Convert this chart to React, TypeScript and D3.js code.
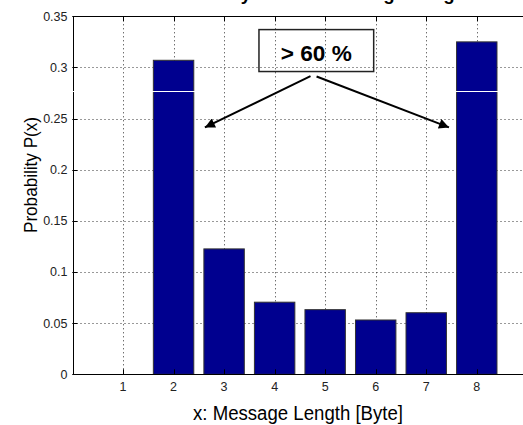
import * as d3 from "d3";

// message length (bytes) and probability P(x)
const lengths = [1, 2, 3, 4, 5, 6, 7, 8];
const probs = [0, 0.307, 0.1226, 0.0705, 0.0632, 0.0531, 0.0602, 0.325];
const yTicks = [0, 0.05, 0.1, 0.15, 0.2, 0.25, 0.3, 0.35];
const yTickLabels = ["0", "0.05", "0.1", "0.15", "0.2", "0.25", "0.3", "0.35"];
const xGrid = [1, 2, 3, 4, 5, 6, 7, 8];

// annotation in data units: box corners, arrow start -> tip
const noteBox = { x0: 3.69, x1: 5.96, y0: 0.337, y1: 0.296, label: "> 60 %" };
const arrows = [
  { x0: 4.71, y0: 0.2915, x1: 2.62, y1: 0.2414 },
  { x0: 4.83, y0: 0.2912, x1: 7.45, y1: 0.2414 },
];

const W = 523;
const H = 425;
const FONT = "'Liberation Sans', Arial, sans-serif";

export default function App() {
  const x = d3.scaleLinear().domain([0, 9]).range([72.5, 527.3]);
  const y = d3.scaleLinear().domain([0, 0.35]).range([374.3, 16.3]);
  const barW = x(0.8) - x(0);
  const left = x.range()[0];
  const right = x.range()[1];
  const top = y.range()[1];
  const bottom = y.range()[0];
  const px = (v: number) => Math.round(v) + 0.5; // crisp 1px lines

  return (
    <svg
      width={W}
      height={H}
      style={{ position: "absolute", left: 0, top: 0, background: "#fff" }}
      fontFamily={FONT}
    >
      <defs>
        <marker id="head" viewBox="0 0 10 10" refX="10" refY="5" markerWidth="6" markerHeight="5" orient="auto" markerUnits="strokeWidth">
          <path d="M0,0 L10,5 L0,10 z" fill="#000" />
        </marker>
      </defs>

      {/* title, mostly cut off at the top like the reference */}
      <text x={155} y={-0.5} fontSize={18.6} fontWeight="bold" fill="#000">
        Probability of each Message Length
      </text>

      {/* grid */}
      <g stroke="#333" strokeWidth={1} strokeDasharray="1,3">
        {yTicks.slice(1, -1).map((t) => (
          <line key={t} x1={left} x2={right} y1={px(y(t))} y2={px(y(t))} />
        ))}
        {xGrid.map((t) => (
          <line key={t} x1={px(x(t))} x2={px(x(t))} y1={top} y2={bottom} />
        ))}
      </g>

      {/* bars */}
      {lengths.map((l, i) =>
        probs[i] > 0 ? (
          <rect
            key={l}
            x={x(l) - barW / 2}
            y={y(probs[i])}
            width={barW}
            height={bottom - y(probs[i])}
            fill="#00008F"
            stroke="#333"
            strokeWidth={1}
          />
        ) : null
      )}

      {/* axes frame and inward ticks */}
      <g stroke="#000" strokeWidth={1} fill="none">
        <line x1={left} x2={right} y1={px(bottom)} y2={px(bottom)} />
        <line x1={left} x2={right} y1={px(top)} y2={px(top)} />
        <line x1={px(left)} x2={px(left)} y1={top} y2={bottom} />
        {yTicks.map((t) => (
          <line key={t} x1={left} x2={left + 5} y1={px(y(t))} y2={px(y(t))} />
        ))}
        {xGrid.map((t) => (
          <g key={t}>
            <line x1={px(x(t))} x2={px(x(t))} y1={bottom} y2={bottom - 5} />
            <line x1={px(x(t))} x2={px(x(t))} y1={top} y2={top + 5} />
          </g>
        ))}
      </g>

      {/* scan seam across the picture */}
      <line x1={0} x2={W} y1={91.5} y2={91.5} stroke="#fff" strokeWidth={1} />

      {/* tick labels */}
      <g fontSize={12.5} fill="#222">
        {yTicks.map((t, i) => (
          <text key={t} x={67.5} y={y(t)} dy="0.35em" textAnchor="end">
            {yTickLabels[i]}
          </text>
        ))}
        {xGrid.map((t) => (
          <text key={t} x={x(t)} y={390.7} textAnchor="middle">
            {t}
          </text>
        ))}
      </g>

      {/* axis labels */}
      <text x={298} y={420} fontSize={19.5} textAnchor="middle" textLength={210} lengthAdjust="spacingAndGlyphs" fill="#000">
        x: Message Length [Byte]
      </text>
      <text
        transform={`translate(36.5,175) rotate(-90)`}
        fontSize={18}
        textAnchor="middle"
        textLength={116}
        lengthAdjust="spacingAndGlyphs"
        fill="#000"
      >
        Probability P(x)
      </text>

      {/* annotation */}
      <rect
        x={x(noteBox.x0)}
        y={y(noteBox.y0)}
        width={x(noteBox.x1) - x(noteBox.x0)}
        height={y(noteBox.y1) - y(noteBox.y0)}
        fill="none"
        stroke="#222"
        strokeWidth={1.5}
      />
      <text
        x={(x(noteBox.x0) + x(noteBox.x1)) / 2}
        y={61}
        fontSize={22}
        fontWeight="bold"
        textAnchor="middle"
        textLength={71}
        lengthAdjust="spacingAndGlyphs"
        fill="#000"
      >
        {noteBox.label}
      </text>
      {arrows.map((a, i) => (
        <line
          key={i}
          x1={x(a.x0)}
          y1={y(a.y0)}
          x2={x(a.x1)}
          y2={y(a.y1)}
          stroke="#000"
          strokeWidth={2}
          markerEnd="url(#head)"
        />
      ))}
    </svg>
  );
}
